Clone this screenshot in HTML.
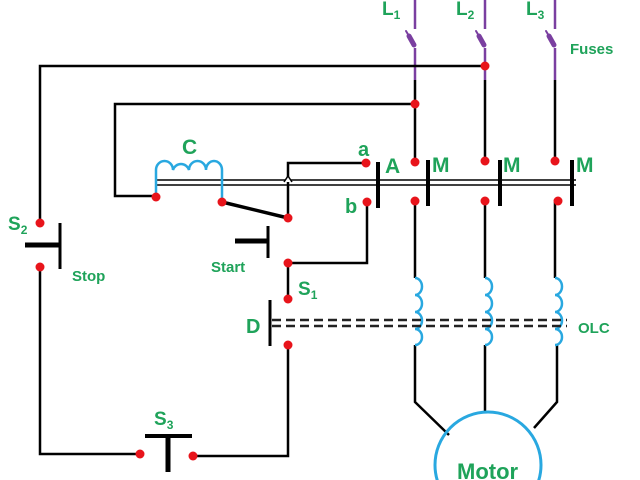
<!DOCTYPE html>
<html><head><meta charset="utf-8"><style>
html,body{margin:0;padding:0;background:#fff;width:640px;height:480px;overflow:hidden;}
svg{display:block;}
text{font-family:"Liberation Sans",sans-serif;font-weight:bold;fill:#1fa35a;}
</style></head><body>
<svg width="640" height="480" viewBox="0 0 640 480" xmlns="http://www.w3.org/2000/svg">
<g stroke="#7a3fa0" stroke-width="2.5" fill="none">
  <line x1="415" y1="0" x2="415" y2="29"/><line x1="415" y1="48" x2="415" y2="80"/>
  <line x1="485" y1="0" x2="485" y2="29"/><line x1="485" y1="48" x2="485" y2="80"/>
  <line x1="555" y1="0" x2="555" y2="29"/><line x1="555" y1="48" x2="555" y2="80"/>
</g>
<g stroke="#7a3fa0" stroke-linecap="round">
  <line x1="406" y1="31" x2="409" y2="36" stroke-width="2"/><line x1="409" y1="36" x2="414" y2="45" stroke-width="5"/>
  <line x1="476" y1="31" x2="479" y2="36" stroke-width="2"/><line x1="479" y1="36" x2="484" y2="45" stroke-width="5"/>
  <line x1="546" y1="31" x2="549" y2="36" stroke-width="2"/><line x1="549" y1="36" x2="554" y2="45" stroke-width="5"/>
</g>
<g stroke="#000" stroke-width="2.5" fill="none">
  <polyline points="40,223 40,66 485,66"/>
  <line x1="415" y1="80" x2="415" y2="162"/>
  <line x1="485" y1="80" x2="485" y2="162"/>
  <line x1="555" y1="80" x2="555" y2="162"/>
  <polyline points="415,104 115,104 115,196 156,196"/>
  <polyline points="40,267 40,454 140,454"/>
  <polyline points="192,456 288,456 288,345"/>
  <polyline points="288,218 288,163 366,163"/>
  <polyline points="288,263 367,263 367,202"/>
  <line x1="288" y1="263" x2="288" y2="298"/>
  <line x1="415" y1="202" x2="415" y2="278"/>
  <line x1="485" y1="202" x2="485" y2="278"/>
  <line x1="555" y1="202" x2="555" y2="278"/>
  <polyline points="415,345 415,402 449,435"/>
  <line x1="485" y1="345" x2="485" y2="412"/>
  <polyline points="557,345 557,402 534,428"/>
</g>
<line x1="222" y1="202" x2="288" y2="218" stroke="#000" stroke-width="3.5"/>
<g stroke="#000" stroke-width="1.6">
  <line x1="155" y1="180" x2="576" y2="180"/>
  <line x1="155" y1="185" x2="576" y2="185"/>
</g>
<polyline points="284,182 288,176 292,182" fill="#fff" stroke="#000" stroke-width="1.5"/>
<g stroke="#000" stroke-width="4">
  <line x1="378" y1="162" x2="378" y2="208"/>
  <line x1="428" y1="160" x2="428" y2="206"/>
  <line x1="500" y1="160" x2="500" y2="206"/>
  <line x1="572" y1="160" x2="572" y2="206"/>
  <line x1="25" y1="245" x2="60" y2="245" stroke-width="5"/>
  <line x1="60" y1="223" x2="60" y2="269" stroke-width="3"/>
  <line x1="235" y1="241" x2="268" y2="241" stroke-width="5"/>
  <line x1="268" y1="226" x2="268" y2="258" stroke-width="3"/>
  <line x1="270" y1="300" x2="270" y2="346" stroke-width="3"/>
  <line x1="145" y1="436" x2="192" y2="436" stroke-width="4"/>
  <line x1="168" y1="436" x2="168" y2="472" stroke-width="5"/>
</g>
<path d="M156,196 V170 a8.5,9 0 0 1 17,0 a8.5,9 0 0 1 16,0 a8.5,9 0 0 1 17,0 a8,9 0 0 1 16,0 V202" fill="none" stroke="#29a8e0" stroke-width="2.5"/>
<g fill="none" stroke="#29a8e0" stroke-width="2.5">
  <path d="M415,278 a7,8.5 0 0 1 0,17 a7,8.5 0 0 1 0,17 a7,8.5 0 0 1 0,17 a7,8 0 0 1 0,16"/>
  <path d="M485,278 a7,8.5 0 0 1 0,17 a7,8.5 0 0 1 0,17 a7,8.5 0 0 1 0,17 a7,8 0 0 1 0,16"/>
  <path d="M555,278 a7,8.5 0 0 1 0,17 a7,8.5 0 0 1 0,17 a7,8.5 0 0 1 0,17 a7,8 0 0 1 0,16"/>
  <circle cx="488" cy="465" r="53" stroke-width="3"/>
</g>
<g stroke="#222" stroke-width="2.5" stroke-dasharray="9,5">
  <line x1="272" y1="320" x2="567" y2="320"/>
  <line x1="272" y1="326" x2="567" y2="326"/>
</g>
<g fill="#e8141b">
  <circle cx="485" cy="66" r="4.5"/><circle cx="415" cy="104" r="4.5"/>
  <circle cx="415" cy="162" r="4.5"/><circle cx="485" cy="161" r="4.5"/><circle cx="555" cy="161" r="4.5"/>
  <circle cx="415" cy="201" r="4.5"/><circle cx="485" cy="201" r="4.5"/><circle cx="558" cy="201" r="4.5"/>
  <circle cx="366" cy="163" r="4.5"/><circle cx="367" cy="202" r="4.5"/>
  <circle cx="156" cy="197" r="4.5"/><circle cx="222" cy="202" r="4.5"/>
  <circle cx="288" cy="218" r="4.5"/><circle cx="288" cy="263" r="4.5"/>
  <circle cx="288" cy="299" r="4.5"/><circle cx="288" cy="345" r="4.5"/>
  <circle cx="40" cy="223" r="4.5"/><circle cx="40" cy="267" r="4.5"/>
  <circle cx="140" cy="454" r="4.5"/><circle cx="193" cy="456" r="4.5"/>
</g>
<text x="382" y="15" font-size="19">L<tspan font-size="12" dy="4">1</tspan></text>
<text x="456" y="15" font-size="19">L<tspan font-size="12" dy="4">2</tspan></text>
<text x="526" y="15" font-size="19">L<tspan font-size="12" dy="4">3</tspan></text>
<text x="570" y="54" font-size="15">Fuses</text>
<text x="182" y="154" font-size="21">C</text>
<text x="358" y="156" font-size="20">a</text>
<text x="345" y="213" font-size="20">b</text>
<text x="385" y="173" font-size="21">A</text>
<text x="432" y="172" font-size="21">M</text>
<text x="503" y="172" font-size="21">M</text>
<text x="576" y="172" font-size="21">M</text>
<text x="8" y="230" font-size="19">S<tspan font-size="12" dy="4">2</tspan></text>
<text x="72" y="281" font-size="15">Stop</text>
<text x="211" y="272" font-size="15">Start</text>
<text x="298" y="295" font-size="19">S<tspan font-size="12" dy="4">1</tspan></text>
<text x="246" y="333" font-size="20">D</text>
<text x="578" y="333" font-size="15">OLC</text>
<text x="154" y="425" font-size="19">S<tspan font-size="12" dy="4">3</tspan></text>
<text x="457" y="479" font-size="22">Motor</text>
</svg>
</body></html>
